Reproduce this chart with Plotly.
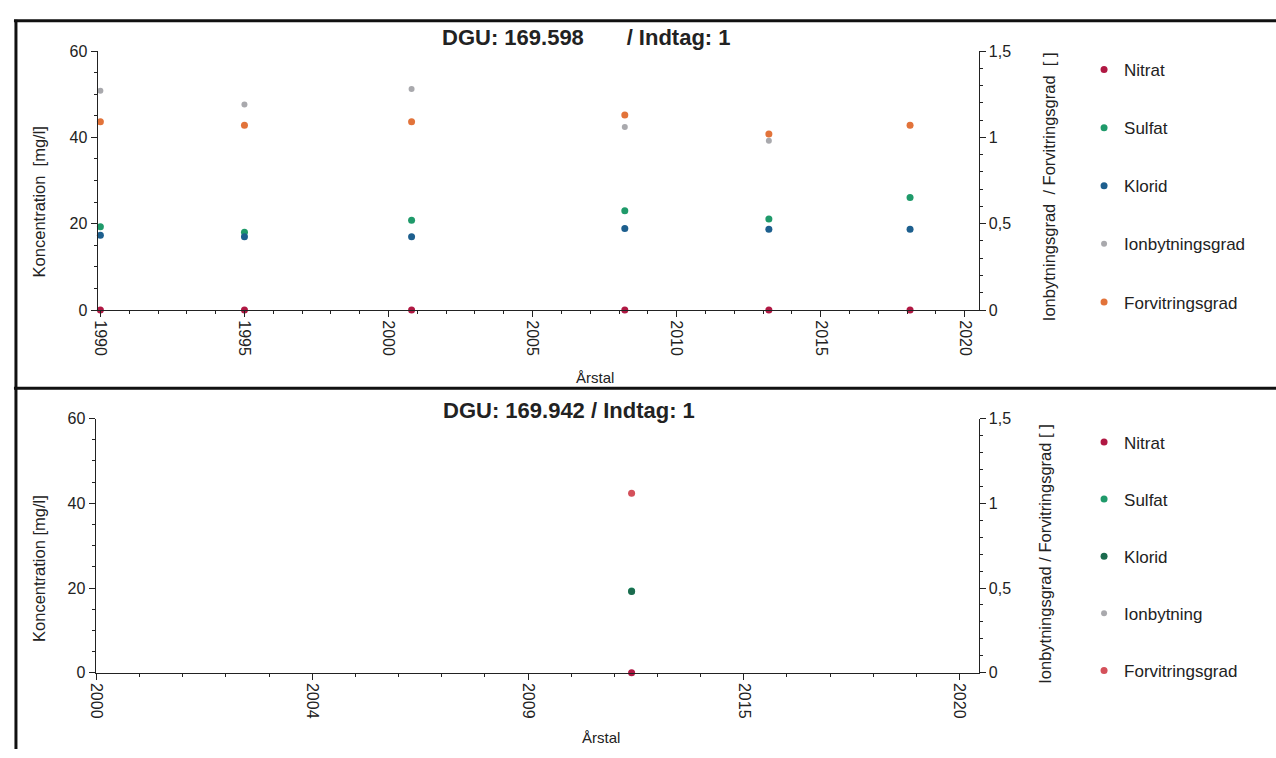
import plotly.graph_objects as go

# ---- data: DGU 169.598, indtag 1 ----
years_a = [1990.0, 1995.0, 2000.8, 2008.2, 2013.2, 2018.1]
nitrat_a = [0.0, 0.0, 0.0, 0.0, 0.0, 0.0]
sulfat_a = [19.3, 18.0, 20.8, 23.0, 21.1, 26.1]
klorid_a = [17.3, 17.0, 17.0, 18.9, 18.7, 18.7]
ionbyt_a = [1.27, 1.19, 1.28, 1.06, 0.98, 1.07]
forvit_a = [1.09, 1.07, 1.09, 1.13, 1.02, 1.07]

# ---- data: DGU 169.942, indtag 1 ----
years_b = [2012.4]
nitrat_b = [0.0]
sulfat_b = [19.3]
klorid_b = [19.2]
ionbyt_b = [1.06]
forvit_b = [1.06]

# axis tick labels
x_ticks_a = [1990, 1995, 2000, 2005, 2010, 2015, 2020]
x_ticks_b = [2000, 2005, 2010, 2015, 2020]
x_text_b = ["2000", "2004", "2009", "2015", "2020"]
y_ticks_left = [0, 20, 40, 60]
y_ticks_right = [0, 0.5, 1, 1.5]
y_text_right = ["0", "0,5", "1", "1,5"]

C_NITRAT = "#b01843"
C_SULFAT = "#1f9a6a"
C_KLORID_A = "#1d5f8e"
C_KLORID_B = "#1b6b4e"
C_ION = "#a9a9ad"
C_FORVIT_A = "#e2733a"
C_FORVIT_B = "#d4505a"

W, H = 1276, 758
FONT = "Liberation Sans, Arial, sans-serif"


def px(x):
    return x / W


def py(y):
    return 1 - y / H


fig = go.Figure()


def add(x, y, name, color, xa, ya, legend, rank, size=7):
    fig.add_trace(go.Scatter(
        x=x, y=y, name=name, mode="markers",
        marker=dict(color=color, size=size),
        xaxis=xa, yaxis=ya, legend=legend, legendgroup=legend + name,
        legendrank=rank, cliponaxis=False,
    ))


# upper panel
add(years_a, ionbyt_a, "Ionbytningsgrad", C_ION, "x", "y2", "legend", 4, size=6)
add(years_a, forvit_a, "Forvitringsgrad", C_FORVIT_A, "x", "y2", "legend", 5)
add(years_a, sulfat_a, "Sulfat", C_SULFAT, "x", "y", "legend", 2)
add(years_a, klorid_a, "Klorid", C_KLORID_A, "x", "y", "legend", 3)
add(years_a, nitrat_a, "Nitrat", C_NITRAT, "x", "y", "legend", 1)

# lower panel
add(years_b, ionbyt_b, "Ionbytning", C_ION, "x2", "y4", "legend2", 4, size=6)
add(years_b, forvit_b, "Forvitringsgrad", C_FORVIT_B, "x2", "y4", "legend2", 5)
add(years_b, sulfat_b, "Sulfat", C_SULFAT, "x2", "y3", "legend2", 2)
add(years_b, klorid_b, "Klorid", C_KLORID_B, "x2", "y3", "legend2", 3)
add(years_b, nitrat_b, "Nitrat", C_NITRAT, "x2", "y3", "legend2", 1)

axis_common = dict(
    showline=True, linecolor="#222", linewidth=1, ticks="outside",
    ticklen=6, tickcolor="#222", showgrid=False, zeroline=False,
    tickfont=dict(family=FONT, size=16, color="#222"),
)
minor_x = dict(dtick=1, ticklen=3, ticks="outside", tickcolor="#222")
minor_left = dict(dtick=5, ticklen=3, ticks="outside", tickcolor="#222")
minor_right = dict(dtick=0.1, ticklen=3, ticks="outside", tickcolor="#222")

fig.update_layout(
    width=W, height=H,
    margin=dict(l=0, r=0, t=0, b=0),
    paper_bgcolor="white", plot_bgcolor="white",
    font=dict(family=FONT, color="#222"),
    xaxis=dict(axis_common, domain=[px(91), px(977)], range=[1989.9, 2020.48],
               tickvals=x_ticks_a, tickangle=90, anchor="y", minor=minor_x),
    yaxis=dict(axis_common, domain=[py(309), py(44)], range=[0, 60],
               tickvals=y_ticks_left, anchor="x", minor=minor_left),
    yaxis2=dict(axis_common, range=[0, 1.5], overlaying="y", side="right",
                anchor="x", tickvals=y_ticks_right, ticktext=y_text_right,
                minor=minor_right),
    xaxis2=dict(axis_common, domain=[px(89), px(977)], range=[1999.98, 2020.44],
                tickvals=x_ticks_b, ticktext=x_text_b, tickangle=90, anchor="y3",
                minor=minor_x),
    yaxis3=dict(axis_common, domain=[py(680), py(420)], range=[0, 60],
                tickvals=y_ticks_left, anchor="x2", minor=minor_left),
    yaxis4=dict(axis_common, range=[0, 1.5], overlaying="y3", side="right",
                anchor="x2", tickvals=y_ticks_right, ticktext=y_text_right,
                minor=minor_right),
    legend=dict(x=px(1083), y=py(45), xanchor="left", yanchor="top",
                bgcolor="rgba(0,0,0,0)", itemwidth=30, tracegroupgap=33,
                font=dict(family=FONT, size=17, color="#222")),
    legend2=dict(x=px(1083), y=py(426), xanchor="left", yanchor="top",
                 bgcolor="rgba(0,0,0,0)", itemwidth=30, tracegroupgap=32,
                 font=dict(family=FONT, size=17, color="#222")),
)

# panel frames
frame = dict(type="line", xref="paper", yref="paper", line=dict(color="#111", width=3))
fig.add_shape(frame, x0=px(7), x1=1, y0=py(13), y1=py(13))
fig.add_shape(frame, x0=px(9), x1=px(9), y0=py(12), y1=0)
fig.add_shape(frame, x0=px(7), x1=1, y0=py(389), y1=py(389))

# titles and axis captions
ann = [
    dict(text="<b>DGU: 169.598       / Indtag: 1</b>", x=px(583), y=py(30),
         font=dict(family=FONT, size=22)),
    dict(text="<b>DGU: 169.942 / Indtag: 1</b>", x=px(565), y=py(412),
         font=dict(family=FONT, size=22)),
    dict(text="Årstal", x=px(591), y=py(378), font=dict(family=FONT, size=15)),
    dict(text="Årstal", x=px(597), y=py(746), font=dict(family=FONT, size=15)),
    dict(text="Koncentration  [mg/l]", x=px(32), y=py(198), textangle=-90,
         font=dict(family=FONT, size=16.5)),
    dict(text="Koncentration [mg/l]", x=px(32), y=py(573), textangle=-90,
         font=dict(family=FONT, size=16.5)),
    dict(text="Ionbytningsgrad  / Forvitringsgrad  [ ]", x=px(1048), y=py(183),
         textangle=-90, font=dict(family=FONT, size=16.5)),
    dict(text="Ionbytningsgrad / Forvitringsgrad [ ]", x=px(1044), y=py(558),
         textangle=-90, font=dict(family=FONT, size=16.5)),
]
for a in ann:
    fig.add_annotation(a, xref="paper", yref="paper", showarrow=False,
                       xanchor="center", yanchor="middle")

fig.write_html("out.html")
